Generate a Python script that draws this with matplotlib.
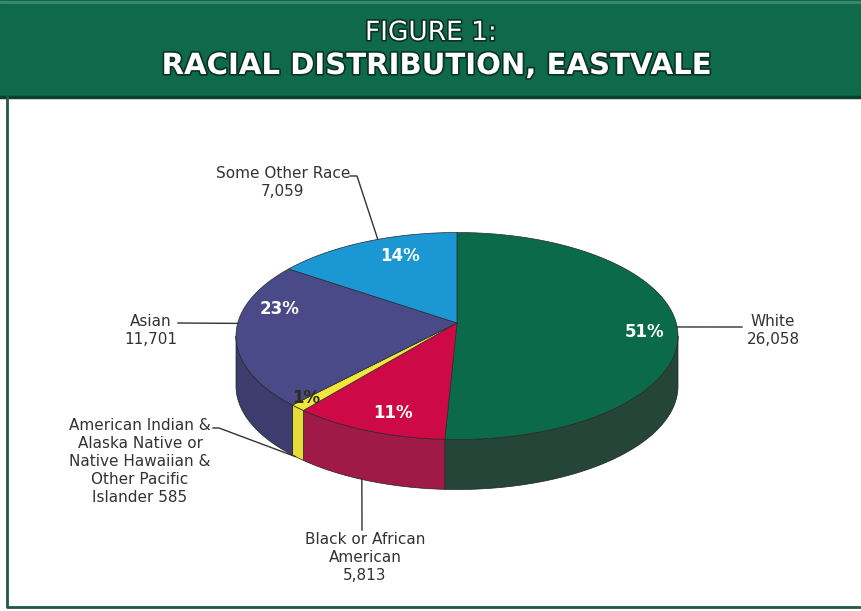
import numpy as np
import matplotlib
matplotlib.use("Agg")
import matplotlib.pyplot as plt
import matplotlib.patheffects as pe
from matplotlib.patches import Polygon, Rectangle

# racial distribution, Eastvale
races = ["White", "Black or African\nAmerican",
         "American Indian &\nAlaska Native or\nNative Hawaiian &\nOther Pacific\nIslander",
         "Asian", "Some Other Race"]
counts = [26058, 5813, 585, 11701, 7059]
count_sep = ["\n", "\n", " ", "\n", "\n"]
top_colors = ["#0b6a49", "#cd0a47", "#f2e63c", "#4a4a89", "#1b97d3"]
side_colors = ["#244537", "#a01a47", "#e6dc38", "#3c3c6f", "#17709e"]

# pie geometry in pixel units (apex sits a bit above the rim centre)
cx, cy = 457, 336
apex_y = 323
ra, rb = 221, 103.5
depth = 50


def rim(t, drop=0.0):
    return cx + ra * np.sin(t), cy - rb * np.cos(t) + drop


fig = plt.figure(figsize=(8.61, 6.11), dpi=100)
ax = fig.add_axes([0, 0, 1, 1])
ax.set_xlim(0, 861)
ax.set_ylim(611, 0)
ax.axis("off")

# header banner
ax.add_patch(Rectangle((0, 0), 861, 97, color="#0f6a4c", zorder=1))
ax.plot([0, 861], [97, 97], color="#0a3f2d", lw=2.5, zorder=2)
ax.plot([0, 861], [1.5, 1.5], color="#3f8a6e", lw=2, zorder=2)
shadow = [pe.withStroke(linewidth=2.5, foreground="#0a3325")]
ax.text(431, 33, "FIGURE 1:", color="white", fontsize=19, ha="center",
        va="center", path_effects=shadow, zorder=3)
ax.text(436, 66, "RACIAL DISTRIBUTION, EASTVALE", color="white",
        fontsize=21, fontweight="bold", ha="center", va="center",
        path_effects=shadow, zorder=3)

# panel frame
ax.plot([7, 7, 861], [97, 607, 607], color="#1f5a42", lw=2, zorder=2)

total = sum(counts)
fracs = np.array(counts) / total
edges = np.concatenate([[0], np.cumsum(fracs)]) * 2 * np.pi

# side walls (only the front half is visible)
for i in range(len(counts)):
    lo = max(edges[i], np.pi / 2)
    hi = min(edges[i + 1], 3 * np.pi / 2)
    if lo >= hi:
        continue
    ts = np.linspace(lo, hi, 100)
    tx, ty = rim(ts)
    bx, by = rim(ts[::-1], depth)
    pts = np.column_stack([np.concatenate([tx, bx]), np.concatenate([ty, by])])
    ax.add_patch(Polygon(pts, closed=True, facecolor=side_colors[i],
                         edgecolor="#222222", lw=0.5, zorder=4))

# top faces
for i in range(len(counts)):
    ts = np.linspace(edges[i], edges[i + 1], 120)
    tx, ty = rim(ts)
    pts = np.column_stack([np.concatenate([[cx], tx]),
                           np.concatenate([[apex_y], ty])])
    ax.add_patch(Polygon(pts, closed=True, facecolor=top_colors[i],
                         edgecolor="#2a2a2a", lw=0.5, zorder=5))

# percentage labels: radius and angle nudge per slice
label_r = [0.85, 0.85, 0.95, 0.83, 0.76]
label_nudge = [0, -3.6, 0, 15, 5]
for i, f in enumerate(fracs):
    mid = (edges[i] + edges[i + 1]) / 2 + np.deg2rad(label_nudge[i])
    lx = cx + ra * label_r[i] * np.sin(mid)
    ly = 330 - rb * label_r[i] * np.cos(mid)
    small = f < 0.03
    ax.text(lx, ly, f"{round(f * 100)}%", fontsize=12, fontweight="bold",
            color="#2e2e14" if small else "white", ha="center", va="center",
            zorder=6)

# callouts: anchor angle on the rim, on the bottom edge?, leader bend, text spot
callouts = [
    (85, False, [(742, 327)], (773, 331)),
    (205.5, True, [(362, 530)], (365, 558)),
    (227, True, [(219, 428), (213, 428)], (140, 462)),
    (277, False, [(178, 323)], (151, 331)),
    (339, False, [(357, 176), (350, 176)], (283, 183)),
]
for i, (ang, bottom, bends, txy) in enumerate(callouts):
    t = np.deg2rad(ang)
    x0, y0 = rim(t, depth if bottom else 0)
    xs = [x0] + [p[0] for p in bends]
    ys = [y0] + [p[1] for p in bends]
    ax.plot(xs, ys, color="#333333", lw=1, zorder=7)
    ax.text(txy[0], txy[1], f"{races[i]}{count_sep[i]}{counts[i]:,}",
            fontsize=11, color="#333333", ha="center", va="center",
            linespacing=1.25, zorder=7)

fig.savefig("out.png", dpi=100)
